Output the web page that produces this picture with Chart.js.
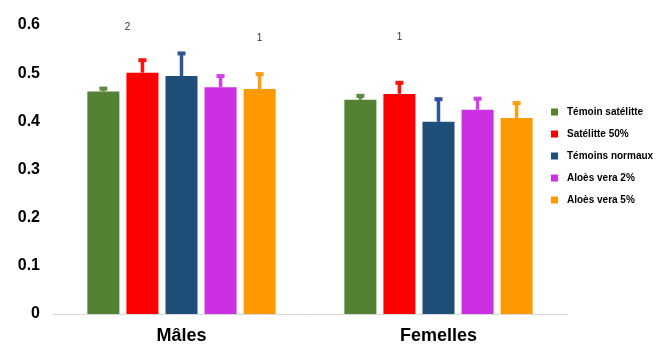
<!DOCTYPE html>
<html>
<head>
<meta charset="utf-8">
<script src="https://cdn.jsdelivr.net/npm/chart.js@4.4.1/dist/chart.umd.min.js"></script>
<style>
  html, body { margin: 0; padding: 0; background: #fff; }
  #wrap { width: 657px; height: 345px; }
</style>
</head>
<body>
<div id="wrap"><canvas id="bar-chart"></canvas></div>
<script>
const groups = ["Mâles", "Femelles"];
const seriesNames = ["Témoin satélitte", "Satélitte 50%", "Témoins normaux", "Aloès vera 2%", "Aloès vera 5%"];
const yTicks = [0, 0.1, 0.2, 0.3, 0.4, 0.5, 0.6];

const temoinSat = [0.462, 0.445];
const satellite50 = [0.501, 0.457];
const temoinsNormaux = [0.494, 0.399];
const aloes2 = [0.471, 0.424];
const aloes5 = [0.467, 0.407];

// plus-only error bars
const errTemoinSat = [0.007, 0.009];
const errSatellite50 = [0.027, 0.024];
const errTemoinsNormaux = [0.048, 0.048];
const errAloes2 = [0.024, 0.024];
const errAloes5 = [0.032, 0.032];

// little numbers written above some bars: [series, group, text, level]
const notes = [
  [1, 0, "2", 0.595],
  [4, 0, "1", 0.572],
  [1, 1, "1", 0.574]
];

const barColors = ["#548235", "#ff0000", "#1f4e79", "#cc30e3", "#ff9900"];
const errColors = ["#5f8a40", "#ff1010", "#2f5597", "#d040e8", "#ff9d10"];

const values = [temoinSat, satellite50, temoinsNormaux, aloes2, aloes5];
const errors = [errTemoinSat, errSatellite50, errTemoinsNormaux, errAloes2, errAloes5];

const datasets = seriesNames.map(function (name, i) {
  return {
    label: name,
    data: values[i],
    backgroundColor: barColors[i],
    borderWidth: 0,
    categoryPercentage: 0.76,
    barPercentage: 0.82
  };
});

const errorBars = {
  id: "errorBars",
  afterDatasetsDraw(chart) {
    const ctx = chart.ctx;
    const y = chart.scales.y;
    ctx.save();
    chart.data.datasets.forEach(function (ds, i) {
      const meta = chart.getDatasetMeta(i);
      meta.data.forEach(function (bar, j) {
        const top = y.getPixelForValue(ds.data[j] + errors[i][j]);
        ctx.strokeStyle = errColors[i];
        ctx.lineWidth = 3.5;
        ctx.beginPath();
        ctx.moveTo(bar.x, bar.y);
        ctx.lineTo(bar.x, top);
        ctx.stroke();
        ctx.fillStyle = errColors[i];
        ctx.fillRect(bar.x - 4, top - 1.5, 8, 4);
      });
    });
    ctx.font = "10px 'Liberation Sans', Arial, sans-serif";
    ctx.fillStyle = "#333";
    ctx.textAlign = "center";
    ctx.textBaseline = "middle";
    notes.forEach(function (n) {
      const bar = chart.getDatasetMeta(n[0]).data[n[1]];
      const dx = n[2] === "2" ? -15 : 0;
      ctx.fillText(n[2], bar.x + dx, y.getPixelForValue(n[3]));
    });
    ctx.restore();
  }
};

const sideLegend = {
  id: "sideLegend",
  afterDraw(chart) {
    const ctx = chart.ctx;
    ctx.save();
    ctx.font = "bold 10px 'Liberation Sans', Arial, sans-serif";
    ctx.textBaseline = "middle";
    ctx.textAlign = "left";
    chart.data.datasets.forEach(function (ds, i) {
      const cy = 112 + i * 22;
      ctx.fillStyle = ds.backgroundColor;
      ctx.fillRect(551, cy - 3.5, 7, 7);
      ctx.fillStyle = "#000";
      ctx.fillText(ds.label, 567, cy);
    });
    ctx.restore();
  }
};

new Chart(document.getElementById("bar-chart"), {
  type: "bar",
  data: { labels: groups, datasets: datasets },
  plugins: [errorBars, sideLegend],
  options: {
    responsive: true,
    maintainAspectRatio: false,
    animation: false,
    layout: { padding: { top: 25, right: 90, left: 0, bottom: 0 } },
    plugins: {
      legend: { display: false },
      tooltip: { enabled: false }
    },
    scales: {
      x: {
        grid: { display: false, drawTicks: false },
        border: { display: true, color: "#d9d9d9", width: 1 },
        ticks: {
          color: "#000",
          padding: 11,
          font: { family: "'Liberation Sans', Arial, sans-serif", size: 18, weight: "bold" }
        },
        afterFit: function (scale) { scale.height = 31; }
      },
      y: {
        min: 0,
        max: 0.6,
        afterBuildTicks: function (scale) {
          scale.ticks = yTicks.map(function (v) { return { value: v }; });
        },
        grid: { display: false, drawTicks: false },
        border: { display: false },
        ticks: {
          color: "#000",
          padding: 13,
          font: { family: "'Liberation Sans', Arial, sans-serif", size: 16, weight: "bold" },
          callback: function (v) { return v === 0 ? "0" : v.toFixed(1); }
        },
        afterFit: function (scale) { scale.width = 53; }
      }
    }
  }
});
</script>
</body>
</html>
